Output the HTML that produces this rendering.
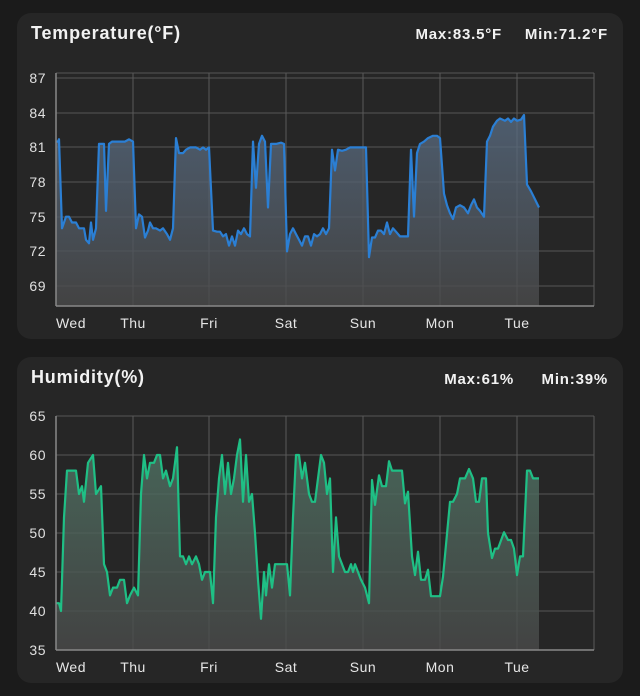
<!DOCTYPE html>
<html><head><meta charset="utf-8"><style>
body{margin:0;background:#1b1b1b;width:640px;height:696px;overflow:hidden;font-family:"Liberation Sans",sans-serif;}
svg{position:absolute;left:0;top:0}
</style></head><body>
<svg id="s" width="640" height="696" xmlns="http://www.w3.org/2000/svg">
<defs>
<linearGradient id="gt" x1="0" y1="0" x2="0" y2="1"><stop offset="0" stop-color="#5a6e85" stop-opacity="0.75"/><stop offset="1" stop-color="#4a4a4a" stop-opacity="0.8"/></linearGradient>
<linearGradient id="gh" x1="0" y1="0" x2="0" y2="1"><stop offset="0" stop-color="#4f7565" stop-opacity="0.8"/><stop offset="1" stop-color="#4a4a4a" stop-opacity="0.8"/></linearGradient>
</defs>
<rect x="17" y="13" width="606" height="326" rx="14" fill="#262626"/>
<rect x="17" y="357" width="606" height="326" rx="14" fill="#262626"/>
<g font-weight="bold" fill="#f2f2f2" font-size="18" letter-spacing="0.8">
<text x="31" y="39">Temperature(°F)</text>
<text x="31" y="383">Humidity(%)</text>
</g>
<g font-weight="bold" fill="#f2f2f2" font-size="15" text-anchor="end" letter-spacing="0.8">
<text x="502" y="39">Max:83.5°F</text><text x="608" y="39">Min:71.2°F</text>
<text x="514" y="384">Max:61%</text><text x="608" y="384">Min:39%</text>
</g>
<g id="g"></g>
</svg>
<script>
var NS="http://www.w3.org/2000/svg",g=document.getElementById('g');
function el(t,a,txt){var e=document.createElementNS(NS,t);for(var k in a)e.setAttribute(k,a[k]);if(txt)e.textContent=txt;g.appendChild(e);return e;}
var days=["Wed","Thu","Fri","Sat","Sun","Mon","Tue"],dx=[56,133,209,286,363,440,517];
function chart(top,bot,ticks,ty,data,col,grad,yf){
 for(var i=0;i<ticks.length;i++){el('line',{x1:56,x2:594,y1:ty[i],y2:ty[i],stroke:'#555','stroke-width':1});
  el('text',{x:46,y:ty[i]+5,fill:'#e0e0e0','font-size':14,'text-anchor':'end','letter-spacing':0.5},ticks[i]);}
 el('line',{x1:56,x2:594,y1:top,y2:top,stroke:'#555'});
 for(i=1;i<dx.length;i++)el('line',{x1:dx[i],x2:dx[i],y1:top,y2:bot,stroke:'#5a5a5a'});
 el('line',{x1:594,x2:594,y1:top,y2:bot,stroke:'#5a5a5a'});
 var p="";for(i=0;i<data.length;i+=2)p+=(i?"L":"M")+data[i]+","+yf(data[i+1]).toFixed(1);
 el('path',{d:p+"L539,"+bot+"L56,"+bot+"Z",fill:'url(#'+grad+')'});
 el('path',{d:p,fill:'none',stroke:col,'stroke-width':2.2,'stroke-linejoin':'round'});
 el('line',{x1:56,x2:56,y1:top,y2:bot,stroke:'#888','stroke-width':1.5});
 el('line',{x1:56,x2:594,y1:bot,y2:bot,stroke:'#888','stroke-width':1.5});
 for(i=0;i<7;i++)el('text',{x:dx[i]+(i?0:15),y:bot+22,fill:'#e6e6e6','font-size':14,'text-anchor':'middle','letter-spacing':0.5},days[i]);
}
var T=[56,81.5,58,81.5,59,81.7,62,74,64,74.5,66,75,69,75,72,74.5,74,74.5,76,74.5,79,74,81,74,84,74,86,73,89,72.7,91,74.5,93,73,96,74,99,81.3,104,81.3,106,75.5,109,81.3,112,81.5,125,81.5,129,81.7,133,81.5,136,74,139,75.2,142,75,145,73.2,148,73.8,150,74.5,153,74,156,74,160,73.8,163,74,167,73.5,170,73,173,74,176,81.8,179,80.5,183,80.5,186,80.8,190,81,196,81,200,80.8,203,81,206,80.8,209,81,213,73.8,217,73.7,220,73.7,223,73.3,226,73.5,229,72.5,232,73.3,235,72.5,238,73.8,241,73.5,244,74,247,73.5,250,73.3,253,81.5,256,77.5,259,81.3,262,82,265,81.5,268,75.8,271,81.3,276,81.3,281,81.4,284,81.3,287,72,290,73.5,293,74,296,73.5,299,73,302,72.5,305,73.3,308,73.3,311,72.5,314,73.5,317,73.3,320,73.5,323,74,326,73.5,329,74,332,80.8,335,79,338,80.8,342,80.7,346,80.8,350,81,358,81,366,81,369,71.5,372,73.2,375,73.2,378,73.8,381,73.8,384,73.5,387,74.5,390,73.5,393,74,396,73.7,400,73.3,408,73.3,411,80.8,414,75,417,80.5,420,81.3,424,81.5,428,81.8,433,82,437,82,440,81.8,444,77,447,76,450,75.3,453,74.8,456,75.8,460,76,464,75.8,468,75.3,471,76,474,76.5,477,75.8,480,75.5,484,75,487,81.5,490,82,493,82.8,497,83.3,500,83.5,505,83.3,508,83.5,511,83.2,514,83.5,517,83.3,521,83.4,524,83.8,527,77.8,531,77.2,535,76.5,539,75.8];
chart(73,306,["87","84","81","78","75","72","69"],[78,113,147,182,217,251,286],T,'#2b7fd4','gt',function(v){return 78+(87-v)*11.56;});
var H=[56,41,59,41,61,40,64,52,67,58,76,58,79,55,82,56,84,54,88,59,93,60,96,55,101,56,104,46,107,45,110,42,113,43,117,43,120,44,124,44,127,41,130,42,134,43,138,42,141,55,144,60,147,57,150,59,154,59,157,60,160,60,163,57,166,58,170,56,173,57,177,61,180,47,183,47,186,46,189,47,192,46,196,47,199,46,202,44,205,45,210,45,213,41,216,52,219,57,222,60,225,55,228,59,231,55,234,57,237,60,240,62,243,54,246,60,249,54,252,55,255,50,258,44,261,39,264,45,266,42,269,46,272,43,275,46,278,46,283,46,287,46,290,42,293,52,296,60,299,60,302,57,305,59,309,55,312,54,315,54,318,57,321,60,324,59,327,55,330,57,333,45,336,52,339,47,342,46,345,45,348,45,351,46,353,45,355,46,358,45,361,44,365,43,369,41,372,56.8,375,53.6,379,57.4,382,56,386,56,389,59.2,392,58,402,58,405,53.8,408,55.3,412,47,415,44.6,418,47.6,421,44,425,44,428,45.3,431,41.9,440,41.9,443,44.4,450,54,453,54,457,55,460,57,465,57,469,58.2,473,57,476,54,479,54,482,57,486,57,488,50,492,46.8,495,48,498,48,504,50.1,508,49.1,511,49.1,514,48,517,44.6,520,47,523,47,527,58,530,58,533,57,539,57];
chart(416,650,["65","60","55","50","45","40","35"],[416,455,494,533,572,611,650],H,'#1fbf85','gh',function(v){return 416+(65-v)*7.8;});
</script>
</body></html>
